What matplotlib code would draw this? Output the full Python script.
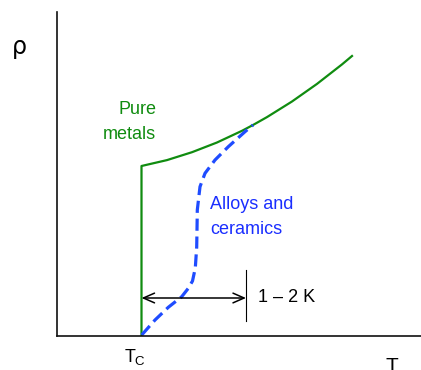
import matplotlib
matplotlib.use('Agg')
import matplotlib.pyplot as plt

plt.rcParams['font.family'] = ['Liberation Sans', 'DejaVu Sans']

# arbitrary units: T along x, rho along y
pure_T = [84.5, 84.5, 110, 135, 160, 185, 196, 210, 235, 260, 285, 295]
pure_rho = [0, 170, 175.9, 183.8, 193.5, 205.2, 211, 218.9, 234.5, 252.1, 271.6, 280]
alloy_T = [84.7, 98, 111.3, 124.7, 131.3, 135.5, 138.3, 139.7, 140, 140.3,
           143, 148, 158, 171.3, 188, 196]
alloy_rho = [1, 16, 28.7, 39.3, 47.7, 55, 68, 89, 106, 126,
             149.3, 162.7, 176, 189.3, 204.3, 211]
width_T = [84.5, 189]   # the 1-2 K span
width_rho = 38

green = '#108c10'
blue = '#1f4cff'
blue_text = '#1a2eff'

fig = plt.figure(figsize=(4.21, 3.70), dpi=100)
ax = fig.add_axes([57/421, 34/370, 364/421, 324/370])
ax.set_xlim(0, 364)
ax.set_ylim(0, 324)
for s in ['top', 'right']:
    ax.spines[s].set_visible(False)
for s in ['left', 'bottom']:
    ax.spines[s].set_linewidth(1.2)
    ax.spines[s].set_color('#111111')
ax.set_xticks([])
ax.set_yticks([])

ax.plot(pure_T, pure_rho, color=green, lw=1.6, solid_joinstyle='round')
ln, = ax.plot(alloy_T, alloy_rho, color=blue, lw=2.3, dash_capstyle='butt',
              dash_joinstyle='round')
ln.set_dashes((3.8, 1.8))

ax.annotate('', xy=(width_T[0], width_rho), xytext=(width_T[1], width_rho),
            arrowprops=dict(arrowstyle='<->,head_length=0.8,head_width=0.35',
                            color='black', lw=1.1, shrinkA=0, shrinkB=0))
ax.plot([width_T[1], width_T[1]], [15, 66], color='black', lw=0.8)
ax.text(width_T[1] + 12, width_rho, '1 – 2 K', fontsize=13, va='center', ha='left')

ax.text(99, 226, 'Pure', color=green, fontsize=13, ha='right', va='center')
ax.text(99, 201, 'metals', color=green, fontsize=13, ha='right', va='center')
ax.text(153, 131, 'Alloys and', color=blue_text, fontsize=13, ha='left', va='center')
ax.text(153, 106, 'ceramics', color=blue_text, fontsize=13, ha='left', va='center')

ax.text(-38, 289, 'ρ', fontsize=17, ha='center', va='center', clip_on=False,
        family=['DejaVu Sans'])
ax.text(67.5, -26, 'T', fontsize=13, ha='left', va='baseline', clip_on=False)
ax.text(77.5, -29, 'C', fontsize=9.5, ha='left', va='baseline', clip_on=False)
ax.text(328, -36, 'T', fontsize=15, ha='left', va='baseline', clip_on=False)

fig.savefig('out.png', dpi=100)
